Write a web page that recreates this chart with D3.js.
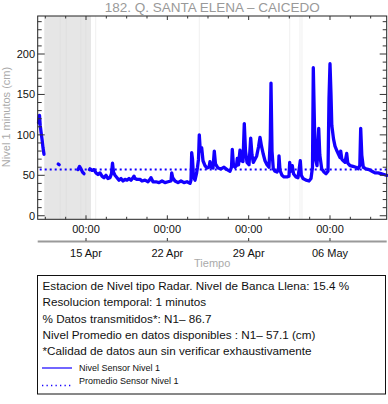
<!DOCTYPE html>
<html><head><meta charset="utf-8">
<script src="https://cdn.jsdelivr.net/npm/d3@7"></script>
<style>body{margin:0;background:#fff}svg{display:block}text{font-family:"Liberation Sans",Arial,sans-serif}</style>
</head><body>
<svg id="c" width="388" height="404"></svg>
<script>
// ---- data (time in days since 2024-04-15 00:00) ----
const title = "182. Q. SANTA ELENA – CAICEDO";
const yLabel = "Nivel 1 minutos (cm)";
const xLabel = "Tiempo";
const segHead = [[-4.088,115],[-4.002,124],[-3.942,112],[-3.873,104],[-3.787,95],[-3.701,84],[-3.615,76]];
const segDot1 = [[-2.393,64],[-2.307,63]];
const segDot2 = [[-0.689,57],[-0.559,61],[-0.430,58],[-0.301,54],[-0.172,52]];
const levelDays = [0.301,0.344,0.516,0.689,0.861,1.033,1.205,1.377,1.549,1.721,1.893,2.066,2.195,2.281,2.367,2.496,2.668,2.840,3.012,3.184,3.357,3.529,3.701,3.873,4.045,4.131,4.217,4.389,4.648,4.820,5.078,5.336,5.508,5.594,5.767,6.025,6.283,6.541,6.799,7.057,7.316,7.376,7.462,7.660,7.918,8.176,8.434,8.693,8.951,9.037,9.097,9.166,9.252,9.381,9.510,9.596,9.683,9.751,9.837,9.958,10.070,10.242,10.414,10.586,10.672,10.758,10.930,11.042,11.145,11.361,11.619,11.877,12.135,12.394,12.523,12.591,12.695,12.824,12.953,13.022,13.125,13.254,13.383,13.512,13.624,13.727,13.857,14.029,14.175,14.287,14.399,14.545,14.691,14.846,14.976,15.105,15.259,15.406,15.578,15.750,15.862,15.922,16.008,16.120,16.266,16.439,16.568,16.611,16.697,16.869,17.041,17.299,17.471,17.531,17.618,17.755,17.859,18.074,18.246,18.444,18.530,18.676,18.935,19.193,19.365,19.494,19.563,19.666,19.752,19.882,20.028,20.123,20.286,20.484,20.656,20.828,20.914,21.000,21.086,21.155,21.301,21.430,21.603,21.732,21.861,21.921,22.015,22.145,22.291,22.437,22.532,22.721,22.980,23.238,23.410,23.565,23.642,23.737,23.866,24.098,24.357,24.615,24.873,25.131,25.390,25.648,25.880];
const levelValues = [57,58,56,57,53,51,53,49,47,50,46,47,52,65,54,50,47,44,46,43,45,44,46,44,47,49,46,45,45,43,44,42,45,47,42,42,41,43,41,42,43,53,47,43,41,43,41,42,40,44,78,70,48,44,52,60,70,100,80,84,68,62,59,60,67,60,59,80,64,59,58,60,57,55,60,82,62,60,62,71,63,81,68,67,114,80,66,63,96,75,66,70,74,85,97,86,76,68,63,60,95,164,80,58,55,54,58,74,56,50,48,48,49,66,55,62,52,48,47,68,50,46,44,43,46,60,183,110,70,62,108,75,58,54,52,55,145,188,150,112,95,86,80,76,72,80,70,68,66,77,65,62,61,60,58,62,108,75,60,58,57,55,53,53,52,51,50];
const meanLevel = 57.1;
const gapBands = [[-3.594,0.430]];
const gapLines = [0.835,9.751,17.531,18.418,18.590];
const bandStripes = [-2.22,-1.70,-0.45,-0.02];
const majorTickDays = [0,7,14,21];
const majorTickTimes = ["00:00","00:00","00:00","00:00"];
const majorTickDates = ["15 Apr","22 Apr","29 Apr","06 May"];
const yMajor = [0,50,100,150,200];
const legendLines = ["Estacion de Nivel tipo Radar. Nivel de Banca Llena: 15.4 %","Resolucion temporal: 1 minutos","% Datos transmitidos*: N1\u2013 86.7","Nivel Promedio en datos disponibles : N1\u2013 57.1 (cm)","*Calidad de datos aun sin verificar exhaustivamente"];
const legendSeries = ["Nivel Sensor Nivel 1","Promedio Sensor Nivel 1"];

// ---- drawing ----
const base = Date.UTC(2024,3,15);
const toDate = d => new Date(base + d*864e5);
const L=37.7, R=386.7, T=16, B=219.3;
const svg = d3.select("#c");
const x = d3.scaleUtc().domain([toDate(-4.157), toDate(25.88)]).range([L,R]);
const y = d3.scaleLinear().domain([-4.4,247]).range([B,T]);
const blue = "#1400ff";

// gaps
svg.selectAll("rect.gap").data(gapBands).join("rect")
  .attr("x",d=>x(toDate(d[0]))).attr("y",T).attr("width",d=>x(toDate(d[1]))-x(toDate(d[0]))).attr("height",B-T)
  .attr("fill","#e6e6e6");
svg.selectAll("line.stripe").data(bandStripes).join("line")
  .attr("x1",d=>x(toDate(d))).attr("x2",d=>x(toDate(d))).attr("y1",T).attr("y2",B)
  .attr("stroke","#e1e1e1").attr("stroke-width",1.2);
svg.selectAll("line.gapl").data(gapLines).join("line")
  .attr("x1",d=>x(toDate(d))).attr("x2",d=>x(toDate(d))).attr("y1",T).attr("y2",B)
  .attr("stroke","#f0f0f0").attr("stroke-width",1);

// mean
svg.append("line").attr("x1",L+2).attr("x2",R).attr("y1",y(meanLevel)).attr("y2",y(meanLevel))
  .attr("stroke",blue).attr("stroke-width",2).attr("stroke-dasharray","2,3");

// series
const line = d3.line().x(d=>x(toDate(d[0]))).y(d=>y(d[1]));
const main = levelDays.map((d,i)=>[d,levelValues[i]]);
[segHead, segDot1, segDot2, main].forEach(s=>{
  svg.append("path").attr("d",line(s)).attr("fill","none").attr("stroke",blue)
    .attr("stroke-width",3.3).attr("stroke-linejoin","round").attr("stroke-linecap","round");
});

// frame
svg.append("rect").attr("x",L).attr("y",T).attr("width",R-L).attr("height",B-T)
  .attr("fill","none").attr("stroke","#222").attr("stroke-width",1);

// y ticks
const yMinor = d3.range(0,250,10);
yMinor.forEach(v=>{
  const maj = v%50===0, len = maj?7:4;
  svg.append("line").attr("x1",L).attr("x2",L+len).attr("y1",y(v)).attr("y2",y(v)).attr("stroke","#333");
  svg.append("line").attr("x1",R).attr("x2",R-len).attr("y1",y(v)).attr("y2",y(v)).attr("stroke","#333");
});
svg.selectAll("text.yt").data(yMajor).join("text")
  .attr("x",35).attr("y",d=>y(d)+4).attr("text-anchor","end").attr("font-size",11).attr("fill","#111").text(d=>d);

// x ticks
const minorDays = d3.range(-3.5,26,1.75);
minorDays.forEach(d=>{
  const maj = majorTickDays.includes(d), len = maj?4:2.5;
  svg.append("line").attr("x1",x(toDate(d))).attr("x2",x(toDate(d))).attr("y1",B).attr("y2",B-len).attr("stroke","#333");
  svg.append("line").attr("x1",x(toDate(d))).attr("x2",x(toDate(d))).attr("y1",T).attr("y2",T+len).attr("stroke","#333");
});
svg.selectAll("text.xt").data(majorTickDays).join("text")
  .attr("x",d=>x(toDate(d))).attr("y",233).attr("text-anchor","middle").attr("font-size",11).attr("fill","#111")
  .text((d,i)=>majorTickTimes[i]);
svg.append("line").attr("x1",L).attr("x2",R).attr("y1",241.5).attr("y2",241.5).attr("stroke","#9a9a9a").attr("stroke-width",2);
majorTickDays.forEach(d=>{
  svg.append("line").attr("x1",x(toDate(d))).attr("x2",x(toDate(d))).attr("y1",238).attr("y2",241).attr("stroke","#333");
});
svg.selectAll("text.xd").data(majorTickDays).join("text")
  .attr("x",d=>x(toDate(d))).attr("y",257).attr("text-anchor","middle").attr("font-size",11).attr("fill","#111")
  .text((d,i)=>majorTickDates[i]);
svg.append("text").attr("x",(L+R)/2).attr("y",266.5).attr("text-anchor","middle").attr("font-size",11).attr("fill","#aaa").text(xLabel);

// y label
svg.append("text").attr("transform","translate(9.5,117) rotate(-90)").attr("text-anchor","middle")
  .attr("font-size",11).attr("fill","#aaa").text(yLabel);

// title
svg.append("text").attr("x",(L+R)/2).attr("y",12).attr("text-anchor","middle").attr("font-size",13.5).attr("fill","#999").text(title);

// legend box
svg.append("rect").attr("x",37.5).attr("y",275.5).attr("width",348).attr("height",118.5).attr("fill","#fff").attr("stroke","#111");
legendLines.forEach((t,i)=>{
  svg.append("text").attr("x",42.5).attr("y",290+i*16.25).attr("font-size",11.7).attr("fill","#111").text(t);
});
svg.append("line").attr("x1",42).attr("x2",72).attr("y1",368).attr("y2",368).attr("stroke",blue).attr("stroke-width",1.2);
svg.append("text").attr("x",79).attr("y",370.5).attr("font-size",9).attr("fill","#111").text(legendSeries[0]);
svg.append("line").attr("x1",42).attr("x2",72).attr("y1",385.5).attr("y2",385.5).attr("stroke",blue).attr("stroke-width",1.5).attr("stroke-dasharray","1.3,3.2");
svg.append("text").attr("x",79).attr("y",384).attr("font-size",9).attr("fill","#111").text(legendSeries[1]);
</script>
</body></html>
